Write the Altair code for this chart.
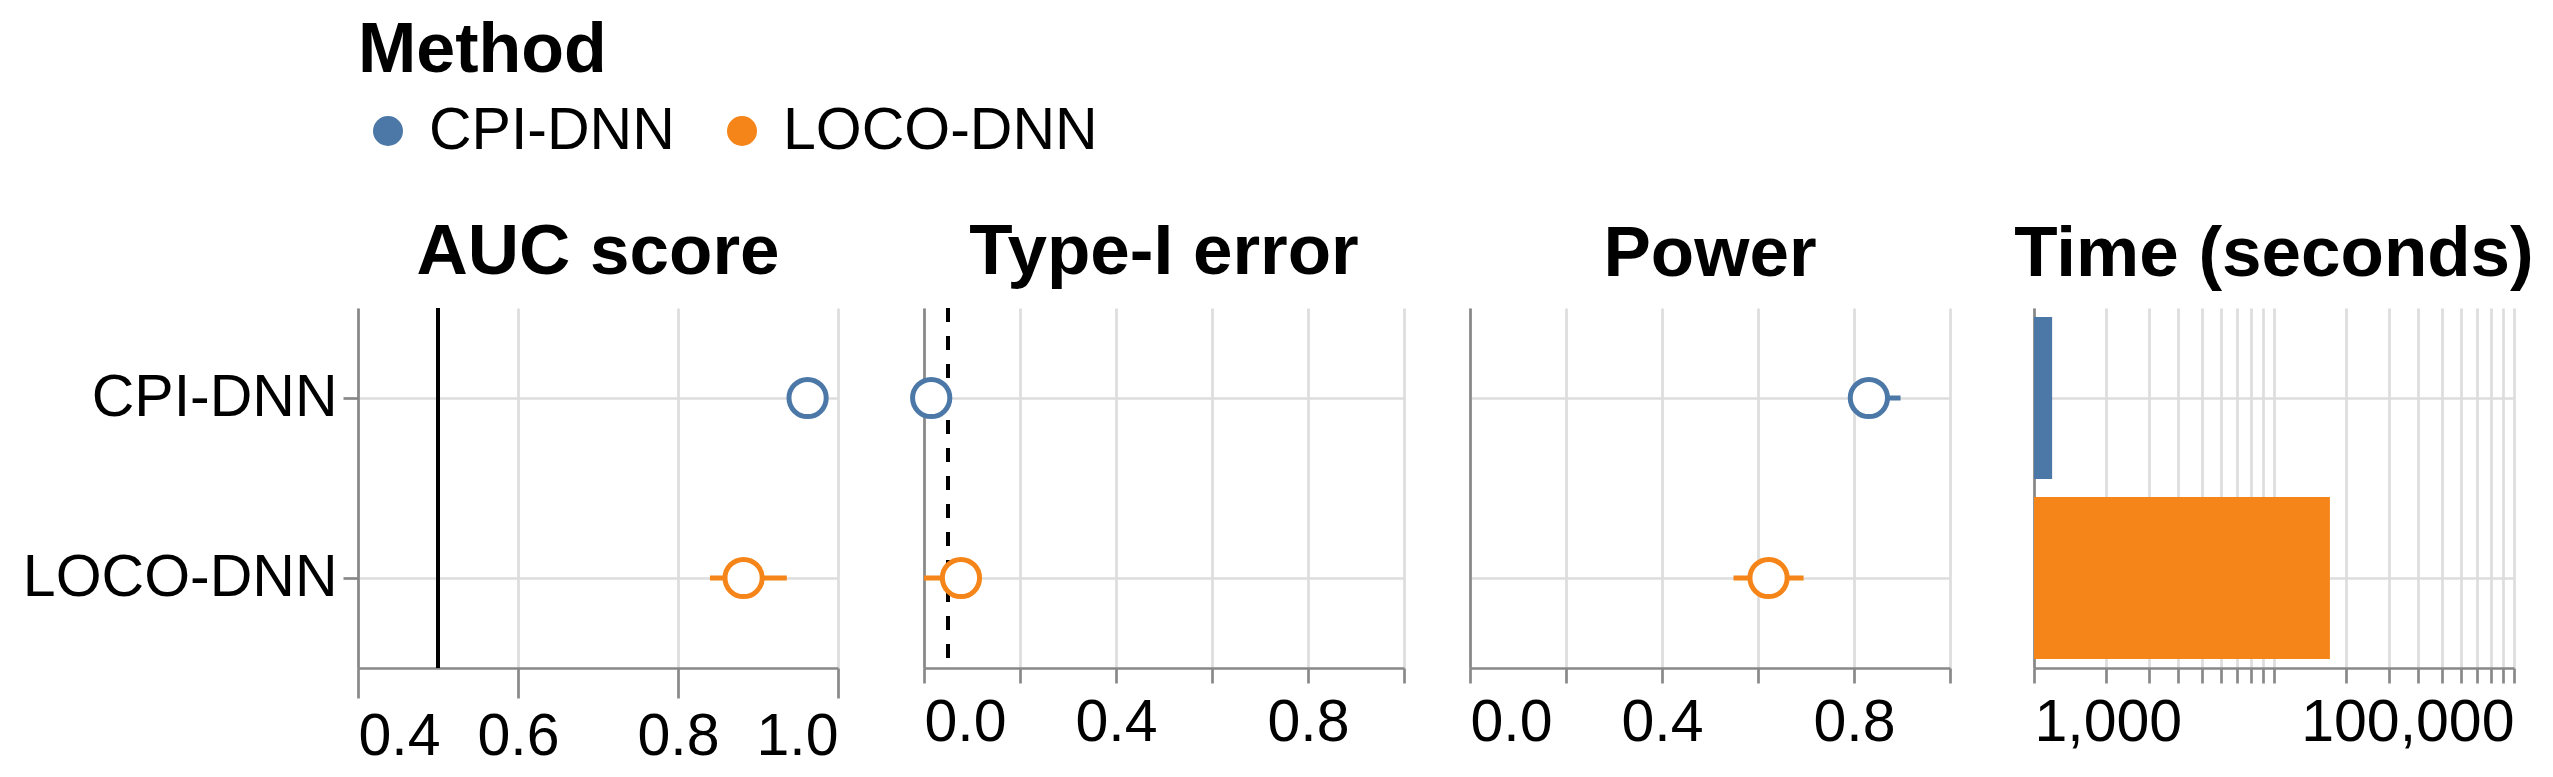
import altair as alt
import pandas as pd

# ---------------- data ----------------
methods = ["CPI-DNN", "LOCO-DNN"]
colors = ["#4c78a8", "#f58518"]

auc_mean = [0.962, 0.882]
auc_low = [0.952, 0.840]
auc_high = [0.972, 0.936]

type1_mean = [0.015, 0.077]
type1_low = [0.000, 0.000]
type1_high = [0.035, 0.110]

power_mean = [0.831, 0.622]
power_low = [0.790, 0.549]
power_high = [0.897, 0.695]

time_seconds = [1190, 17100]
time_domain = [1000, 100000]

auc_reference = [0.5]
alpha_level = [0.05]

auc_ticks = [0.4, 0.6, 0.8, 1.0]
unit_ticks = [0.0, 0.2, 0.4, 0.6, 0.8, 1.0]
time_ticks = [1000, 2000, 3000, 4000, 5000, 6000, 7000, 8000, 9000,
              10000, 20000, 30000, 40000, 50000, 60000, 70000, 80000, 90000, 100000]
time_labels = [1000, 100000]

FONT = "Liberation Sans"
LABEL_SIZE = 59
TITLE_SIZE = 71
W, H = 480, 360

stroke_scale = alt.Scale(domain=methods, range=colors)
color_scale = alt.Scale(domain=methods, range=colors)


def metric_df(mean, low, high):
    return pd.DataFrame({"Method": methods, "mean": mean, "low": low, "high": high})


def y_enc(first):
    if first:
        ax = alt.Axis(title=None, labels=True, ticks=True, tickSize=15, labelPadding=6,
                      grid=True, labelFontSize=LABEL_SIZE, labelLimit=0)
    else:
        ax = alt.Axis(title=None, labels=False, ticks=False, grid=True, minExtent=0)
    return alt.Y("Method:N", sort=methods, axis=ax)


def panel_title(text):
    return alt.TitleParams(text, fontSize=TITLE_SIZE, font=FONT, fontWeight="bold",
                           color="black", anchor="middle", offset=17)


def metric_panel(mean, low, high, title, scale, axis, ref, first):
    df = metric_df(mean, low, high)
    base = alt.Chart(df)
    bars = base.mark_rule(strokeWidth=5).encode(
        x=alt.X("low:Q", scale=scale, axis=axis),
        x2="high:Q",
        y=y_enc(first),
        stroke=alt.Stroke("Method:N", scale=stroke_scale, legend=None),
    )
    pts = base.mark_point(shape="circle", filled=True, fill="white", fillOpacity=1,
                          strokeWidth=5, size=1385, opacity=1).encode(
        x=alt.X("mean:Q", scale=scale, axis=axis),
        y=y_enc(first),
        stroke=alt.Stroke("Method:N", scale=stroke_scale, legend=None),
    )
    layers = [bars, pts]
    if ref is not None:
        layers.insert(0, ref)
    return alt.layer(*layers).properties(width=W, height=H, title=panel_title(title))


# AUC panel
auc_scale = alt.Scale(domain=[0.4, 1.0], nice=False, zero=False)
auc_axis = alt.Axis(title=None, values=auc_ticks, format=".1f", tickSize=30, labelPadding=9)
auc_rule = alt.Chart(pd.DataFrame({"v": auc_reference})).mark_rule(
    color="black", strokeWidth=4).encode(x=alt.X("v:Q", scale=auc_scale, axis=auc_axis))
p_auc = metric_panel(auc_mean, auc_low, auc_high, "AUC score", auc_scale, auc_axis, auc_rule, True)

# Type-I panel
unit_scale = alt.Scale(domain=[0.0, 1.0], nice=False)
unit_axis = alt.Axis(title=None, values=unit_ticks, format=".1f", tickSize=15,
                     labelPadding=10, labelOverlap="parity")
t1_rule = alt.Chart(pd.DataFrame({"v": alpha_level})).mark_rule(
    color="black", strokeWidth=4, strokeDash=[14, 14]).encode(
    x=alt.X("v:Q", scale=unit_scale, axis=unit_axis))
p_t1 = metric_panel(type1_mean, type1_low, type1_high, "Type-I error", unit_scale, unit_axis, t1_rule, False)

# Power panel
p_pow = metric_panel(power_mean, power_low, power_high, "Power", unit_scale, unit_axis, None, False)

# Time panel
time_df = pd.DataFrame({"Method": methods, "time": time_seconds,
                        "base": [time_domain[0]] * len(methods)})
label_test = " || ".join(f"datum.value == {v}" for v in time_labels)
time_scale = alt.Scale(type="log", domain=time_domain, nice=False)
p_time = alt.Chart(time_df).mark_bar().encode(
    x=alt.X("time:Q", scale=time_scale,
            axis=alt.Axis(title=None, values=time_ticks, tickSize=15, labelPadding=10,
                          labelOverlap=False, labelLimit=0,
                          labelExpr=f"({label_test}) ? format(datum.value, ',') : ''")),
    x2="base:Q",
    y=y_enc(False),
    color=alt.Color("Method:N", scale=color_scale, legend=None),
).properties(width=W, height=H, title=panel_title("Time (seconds)"))

panels = alt.hconcat(p_auc, p_t1, p_pow, p_time, spacing=62).resolve_scale(x="independent")

# Legend ("Method") drawn as its own small chart above the panels
legend_df = pd.DataFrame({"Method": methods})
leg_x = alt.X("Method:N", sort=methods, axis=None,
              scale=alt.Scale(range=[30, 384], padding=0))
leg_pts = alt.Chart(legend_df).mark_point(shape="circle", filled=True, size=900, opacity=1).encode(
    x=leg_x, color=alt.Color("Method:N", scale=color_scale, legend=None))
leg_txt = alt.Chart(legend_df).mark_text(align="left", baseline="middle", dx=41,
                                         fontSize=LABEL_SIZE, font=FONT, color="black").encode(
    x=leg_x, text="Method:N")
legend_chart = alt.layer(leg_pts, leg_txt).properties(
    width=760, height=60,
    title=alt.TitleParams("Method", anchor="start", dx=0, fontSize=70, fontWeight="bold",
                          font=FONT, color="black", offset=14),
)

chart = alt.vconcat(legend_chart, panels, spacing=56).properties(
    padding={"left": 14, "top": 8, "right": 5, "bottom": 2},
).configure_view(stroke=None).configure_axis(
    labelFont=FONT, labelFontSize=LABEL_SIZE, labelColor="black", labelLimit=0,
    domainColor="#888", tickColor="#888", gridColor="#ddd",
    domainWidth=2.7, tickWidth=2.7, gridWidth=2.7,
)

chart.save("out.html", embed_options={"renderer": "svg", "actions": False})
